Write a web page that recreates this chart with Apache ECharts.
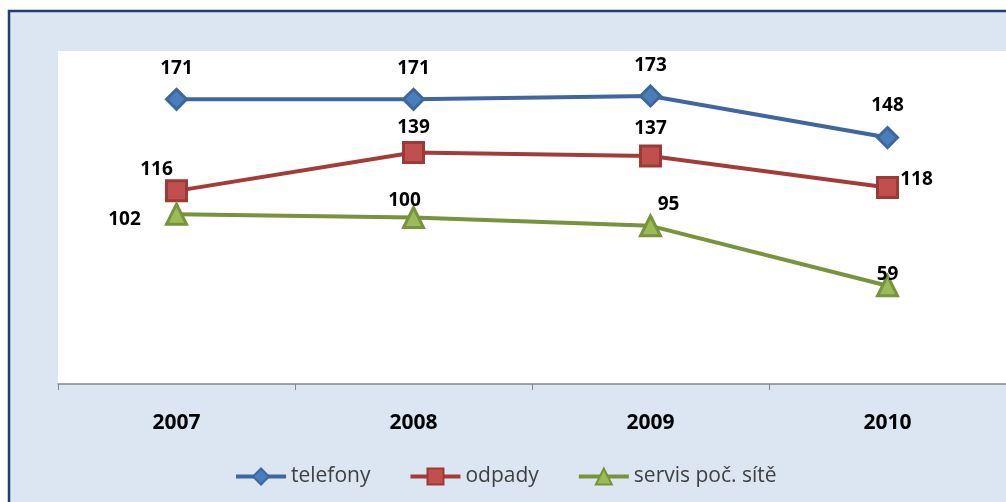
<!DOCTYPE html>
<html><head><meta charset="utf-8">
<script src="https://cdn.jsdelivr.net/npm/echarts@6/dist/echarts.min.js"></script>
<style>html,body{margin:0;padding:0;background:#fff}#c{width:1006px;height:502px}</style>
</head><body><div id="c"></div>
<script>
const categories = ['2007', '2008', '2009', '2010'];
const telefony = [171, 171, 173, 148];
const odpady = [116, 139, 137, 118];
const servis = [102, 100, 95, 59];
const seriesNames = ['telefony', 'odpady', 'servis poč. sítě'];

// label offsets (style only)
const offTel = [[0, -31], [0, -31], [0, -30], [0, -32]];
const offOdp = [[-20, -21], [0, -25], [0, -27], [29, -8]];
const offSer = [[-52, 5], [-9, -17], [18, -21], [0, -11]];

function mk(name, vals, offs, line, fill, border, symbol, size) {
  return {
    name: name, type: 'line', data: vals.map((v, i) => ({
      value: v,
      label: { offset: offs[i] }
    })),
    symbol: symbol, symbolSize: size,
    lineStyle: { color: line, width: 4 },
    itemStyle: { color: fill, borderColor: border, borderWidth: 3 },
    label: { show: true, position: 'inside', align: 'center', verticalAlign: 'middle',
      fontFamily: 'Open Sans', fontWeight: 'bold', fontSize: 19, color: '#000' },
    emphasis: { disabled: true }, animation: false
  };
}

const chart = echarts.init(document.getElementById('c'), null, { renderer: 'canvas' });
chart.setOption({
  backgroundColor: '#fff',
  animation: false,
  graphic: [{ type: 'rect', z: -100, silent: true,
    shape: { x: 9, y: 11, width: 1100, height: 600 },
    style: { fill: '#dce6f2', stroke: '#1f3f6e', lineWidth: 2.5 } }],
  grid: { left: 58, top: 51, width: 950, bottom: 118, show: true, backgroundColor: '#ffffff', borderWidth: 0 },
  xAxis: { type: 'category', data: categories, boundaryGap: true,
    axisLine: { lineStyle: { color: '#868686', width: 1.5 } },
    axisTick: { show: true, length: 6, lineStyle: { color: '#868686' } },
    axisLabel: { margin: 29, fontFamily: 'Open Sans', fontWeight: 'bold', fontSize: 21, color: '#000' } },
  yAxis: { type: 'value', min: 0, max: 200, show: false, splitLine: { show: false } },
  legend: { bottom: 10, left: 229, itemWidth: 50, itemHeight: 20, itemGap: 38,
    textStyle: { fontFamily: 'Open Sans', fontSize: 21, color: '#404040' },
    lineStyle: { width: 4 },
    data: seriesNames },
  series: [
    mk(seriesNames[0], telefony, offTel, '#3d679e', '#4a7ebb', '#3d679e', 'diamond', 20),
    mk(seriesNames[1], odpady, offOdp, '#a33c39', '#c0504d', '#9b3a37', 'rect', 20),
    mk(seriesNames[2], servis, offSer, '#77933c', '#9bbb59', '#77933c', 'triangle', 20)
  ]
});
</script></body></html>
